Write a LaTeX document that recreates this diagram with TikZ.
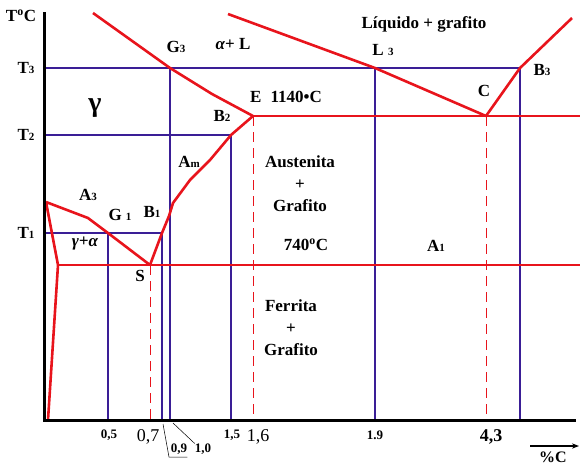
\documentclass[tikz,border=0pt]{standalone}
\usepackage{fontspec}
\setmainfont{Liberation Serif}
\usetikzlibrary{arrows.meta}
\definecolor{PhaseRed}{HTML}{E8141C}
\definecolor{IsoBlue}{HTML}{3A1E96}
\definecolor{AxisBlack}{HTML}{000000}
\newcommand\ix[1]{{\fontsize{11}{12}\selectfont #1}}

\begin{document}
\begin{tikzpicture}[x=1pt,y=-1pt,
    phase/.style={PhaseRed, line width=2.6pt, line join=round},
    iso/.style={IsoBlue, line width=1.8pt},
    guide/.style={PhaseRed, line width=1pt, dash pattern=on 10pt off 6pt},
    lbl/.style={font=\fontsize{17}{19}\selectfont\bfseries, inner sep=0pt},
    tick/.style={font=\fontsize{13}{14}\selectfont\bfseries, inner sep=0pt},
    bigtick/.style={font=\fontsize{18}{20}\selectfont, inner sep=0pt}]
  \useasboundingbox (0,0) rectangle (580,467);
  % key points of the diagram
  \coordinate (O) at (44,420);
  \coordinate (G3) at (170,68);
  \coordinate (L3) at (375,68);
  \coordinate (B3) at (520,68);
  \coordinate (E) at (253,116);
  \coordinate (C) at (486,116);
  \coordinate (B2) at (231,135);
  \coordinate (B1) at (162,233);
  \coordinate (G1) at (108,233);
  \coordinate (S) at (150,265);
  \coordinate (A3) at (46,202);
  \coordinate (P) at (58,265);
  % isotherms and verticals
  \draw[iso] (44,68) -- (B3);
  \draw[iso] (44,135) -- (B2);
  \draw[iso] (44,233) -- (B1);
  \foreach \x/\y in {108/233, 162/233, 170/68, 231/135, 375/68, 520/68} {
    \draw[iso] (\x,\y) -- (\x,420);
  }
  \draw[guide] (S) -- (150,420);
  \draw[guide] (E) -- (253,420);
  \draw[guide] (C) -- (486,416);
  % phase boundaries
  \draw[phase] (93,13) -- (G3) -- (212,94) -- (E);
  \draw[phase] (228,14) -- (L3) -- (C);
  \draw[phase] (C) -- (B3) -- (572,18);
  \draw[phase] (E) -- (B2) -- (210,160) -- (190,180) -- (173,203) -- (169,216) -- (B1) -- (S);
  \draw[phase] (A3) -- (88,218) -- (G1) -- (S);
  \draw[phase] (A3) -- (P) -- (48,420);
  \draw[phase] (E) -- (580,116);
  \draw[phase] (P) -- (580,265);
  % axes
  \draw[AxisBlack, line width=3pt] (44,12) -- (O) -- (576,420);
  \draw[AxisBlack, line width=1.3pt, -{Stealth[length=7pt]}] (530,446) -- (579,446);
  \node[lbl, font=\fontsize{16}{18}\selectfont\bfseries] (pc) at (553,457) {\%C};
  \node[lbl] (tc) at (21,16) {T\textsuperscript{o}C};
  \node[lbl] (t3) at (26,68) {T\ix{3}};
  \node[lbl] (t2) at (26,135) {T\ix{2}};
  \node[lbl] (t1) at (26,233) {T\ix{1}};
  % region and point labels
  \node[lbl] (g3) at (176,47) {G\ix{3}};
  \node[lbl] (al) at (233,44) {\textit{α}+ L};
  \node[lbl] (lg) at (424,24) {Líquido + grafito};
  \node[lbl] (l3) at (383,50) {L \ix{3}};
  \node[lbl] (b3) at (542,70) {B\ix{3}};
  \node[lbl] (c) at (484,91) {C};
  \node[lbl, anchor=west] (e) at (250,97) {E\hspace{9pt}1140\textbullet C};
  \node[lbl, font=\fontsize{28}{30}\selectfont\bfseries] (g) at (95,108) {γ};
  \node[lbl] (b2) at (222,116) {B\ix{2}};
  \node[lbl] (am) at (189,162) {A\ix{m}};
  \node[lbl, align=center] (aus) at (300,184) {Austenita\\[3pt]+\\[3pt]Grafito};
  \node[lbl] (a3) at (88,195) {A\ix{3}};
  \node[lbl] (g1) at (120,215) {G \ix{1}};
  \node[lbl] (b1) at (152,212) {B\ix{1}};
  \node[lbl] (ga) at (85,243) {\textit{γ+α}};
  \node[lbl] (t740) at (306,245) {740\textsuperscript{o}C};
  \node[lbl] (a1) at (436,246) {A\ix{1}};
  \node[lbl] (s) at (140,276) {S};
  \node[lbl, align=center] (fer) at (291,328) {Ferrita\\[3pt]+\\[3pt]Grafito};
  % composition ticks
  \node[tick] (x05) at (109,435) {0,5};
  \node[bigtick] (x07) at (148,437) {0,7};
  \node[tick] (x09) at (179,449) {0,9};
  \node[tick] (x10) at (203,449) {1,0};
  \node[tick] (x15) at (232,435) {1,5};
  \node[bigtick] (x16) at (258,437) {1,6};
  \node[tick] (x19) at (375,435) {1.9};
  \node[bigtick, font=\fontsize{18}{20}\selectfont\bfseries] (x43) at (491,437) {4,3};
  \draw[AxisBlack, line width=0.5pt] (163,424) -- (169,457) -- (x09.south east |- 0,457);
  \draw[AxisBlack, line width=0.5pt] (173,423) -- (x10.north west);
\end{tikzpicture}
\end{document}
